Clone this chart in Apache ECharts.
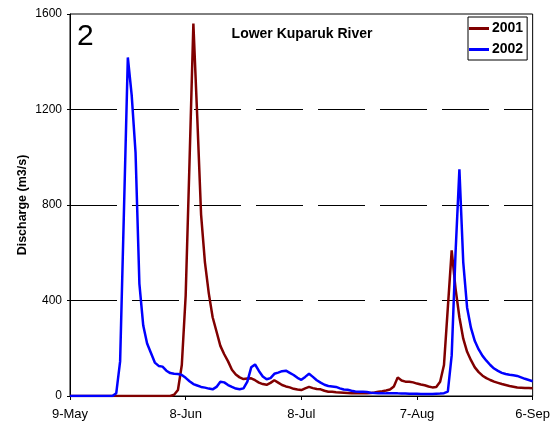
<!DOCTYPE html>
<html>
<head>
<meta charset="utf-8">
<script src="https://cdn.jsdelivr.net/npm/echarts@6/dist/echarts.min.js"></script>
<style>
  html, body { margin: 0; padding: 0; background: #fff; }
  #chart { width: 553px; height: 426px; }
</style>
</head>
<body>
<div id="chart"></div>
<script>
// x positions are days counted from 9-May
const tickLabels = ['9-May', '8-Jun', '8-Jul', '7-Aug', '6-Sep'];
const yTicks = [0, 400, 800, 1200, 1600];

// daily discharge, 9-May .. 6-Sep
const flow2001 = [
  0, 0, 0, 0, 0, 0, 0, 0, 0, 0,
  0, 0, 0, 0, 0, 0, 0, 0, 0, 0,
  0, 0, 0, 0, 0, 0, 0, 5, 25, 130,
  420, 980, 1560, 1170, 760, 560, 430, 330, 270, 210,
  175, 145, 110, 90, 78, 71, 73, 74, 66, 56,
  50, 47, 55, 66, 56, 46, 40, 36, 30, 27,
  25, 32, 38, 33, 29, 28, 22, 18, 18, 16,
  15, 14, 13, 12, 12, 11, 11, 11, 13, 15,
  18, 20, 23, 27, 40, 78, 65, 60, 60, 57,
  52, 48, 45, 40, 36, 38, 60, 130, 370, 610,
  450, 330, 240, 185, 150, 120, 100, 85, 75, 67,
  60, 55, 50, 46, 42, 39, 36, 35, 34, 33,
  32
];
const flow2002 = [
  0, 0, 0, 0, 0, 0, 0, 0, 0, 0,
  0, 0, 12, 145, 780, 1418, 1260, 1020, 470, 295,
  220, 180, 140, 126, 123, 106, 96, 93, 92, 88,
  76, 62, 50, 44, 38, 35, 31, 28, 38, 60,
  57, 46, 38, 31, 28, 32, 60, 120, 132, 105,
  82, 70, 75, 93, 98, 104, 106, 97, 88, 76,
  68, 80, 93, 80, 66, 56, 47, 42, 40, 38,
  32, 27, 26, 22, 19, 18, 18, 17, 14, 13,
  12, 12, 11, 11, 11, 11, 10, 10, 9, 9,
  9, 8, 8, 8, 8, 9, 10, 12, 18, 170,
  600, 950, 560, 370, 285, 230, 195, 168, 148, 130,
  115, 105, 97, 92, 89, 87, 84, 78, 72, 67,
  62
];

const font = "'Liberation Sans', Arial, sans-serif";
const chart = echarts.init(document.getElementById('chart'));

const option = {
  animation: false,
  textStyle: { fontFamily: font, color: '#000' },
  grid: {
    left: 70, right: 17, top: 14, bottom: 30,
    show: true, borderColor: '#000', borderWidth: 1, backgroundColor: 'transparent'
  },
  legend: {
    orient: 'vertical',
    left: 468, top: 17,
    padding: [4, 4, 3, 1],
    itemGap: 6,
    itemWidth: 20, itemHeight: 3,
    icon: 'rect',
    borderColor: '#000', borderWidth: 1,
    textStyle: { fontFamily: font, fontSize: 14, fontWeight: 'bold', color: '#000', padding: [0, 0, 0, -2], lineHeight: 15 },
    data: ['2001', '2002']
  },
  graphic: [
    { type: 'text', left: 77, top: 22, style: { text: '2', font: '30px ' + font, fill: '#000' } },
    { type: 'text', x: 302, y: 34, style: { text: 'Lower Kuparuk River', font: 'bold 14px ' + font, fill: '#000', align: 'center', verticalAlign: 'middle' } }
  ],
  xAxis: {
    type: 'value',
    min: 0, max: 120, interval: 30,
    axisLine: { lineStyle: { color: '#000', width: 1 } },
    axisTick: { length: 4, lineStyle: { color: '#000' } },
    splitLine: { show: false },
    axisLabel: {
      fontSize: 13, color: '#000', margin: 12,
      formatter: v => tickLabels[v / 30]
    }
  },
  yAxis: {
    type: 'value',
    min: yTicks[0], max: yTicks[yTicks.length - 1], interval: 400,
    name: 'Discharge (m3/s)',
    nameLocation: 'middle', nameRotate: 90, nameGap: 41,
    nameMoveOverlap: false,
    nameTextStyle: { fontSize: 12.5, fontWeight: 'bold', color: '#000' },
    axisLine: { show: true, lineStyle: { color: '#000', width: 1 } },
    axisTick: { show: true, length: 3, lineStyle: { color: '#000' } },
    axisLabel: { fontSize: 12, color: '#000', margin: 8, formatter: v => String(v) },
    splitLine: {
      show: true, showMinLine: false, showMaxLine: false,
      lineStyle: { color: '#000', width: 1, type: [47, 15] }
    }
  },
  series: [
    {
      name: '2001', type: 'line', symbol: 'none',
      lineStyle: { color: '#800000', width: 2.5 }, itemStyle: { color: '#800000' },
      data: flow2001.map((v, i) => [i, v])
    },
    {
      name: '2002', type: 'line', symbol: 'none',
      lineStyle: { color: '#0000ff', width: 2.5 }, itemStyle: { color: '#0000ff' },
      data: flow2002.map((v, i) => [i, v])
    }
  ]
};

chart.setOption(option);
</script>
</body>
</html>
